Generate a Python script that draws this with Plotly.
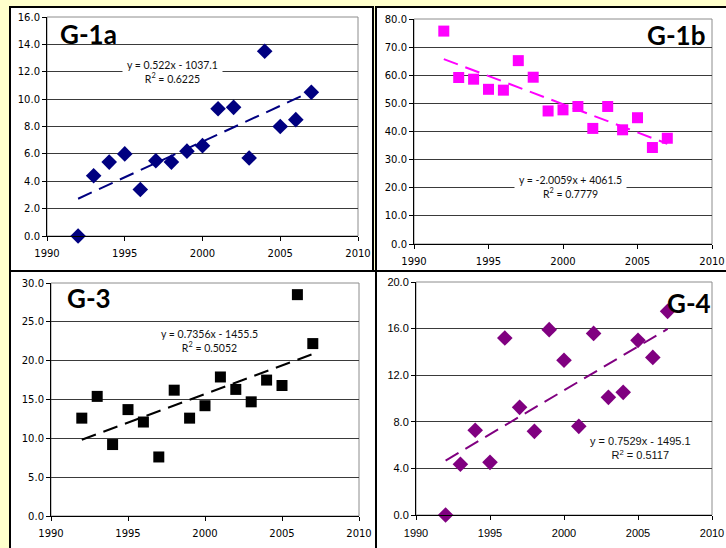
import plotly.graph_objects as go

W, H = 726, 548

YEARS = list(range(1992, 2008))
G1A_VALUES = [0.0, 4.4, 5.4, 6.0, 3.4, 5.5, 5.4, 6.2, 6.6, 9.3, 9.4, 5.7, 13.5, 8.0, 8.5, 10.5]
G1B_VALUES = [75.7, 59.2, 58.6, 55.0, 54.7, 65.2, 59.3, 47.3, 47.7, 48.9, 41.1, 48.9, 40.6, 44.9, 34.3, 37.6]
G3_VALUES = [12.6, 15.4, 9.2, 13.7, 12.1, 7.6, 16.2, 12.6, 14.2, 17.9, 16.3, 14.7, 17.5, 16.8, 28.5, 22.2]
G4_VALUES = [0.0, 4.35, 7.27, 4.52, 15.19, 9.24, 7.18, 15.91, 13.28, 7.61, 15.59, 10.1, 10.53, 14.99, 13.53, 17.48]

TREND_G1A = (0.522, -1037.1)
TREND_G1B = (-2.0059, 4061.5)
TREND_G3 = (0.7356, -1455.5)
TREND_G4 = (0.7529, -1495.1)

EQ_G1A = "y = 0.522x - 1037.1<br>R<sup>2</sup> = 0.6225"
EQ_G1B = "y = -2.0059x + 4061.5<br>R<sup>2</sup> = 0.7779"
EQ_G3 = "y = 0.7356x - 1455.5<br>R<sup>2</sup> = 0.5052"
EQ_G4 = "y = 0.7529x - 1495.1<br>R<sup>2</sup> = 0.5117"

X_TICKS = [1990, 1995, 2000, 2005, 2010]


def px(x):
    return x / W


def py(y):
    return 1 - y / H


panels = [
    dict(name="G-1a", values=G1A_VALUES, trend=TREND_G1A, eq=EQ_G1A,
         area=(47, 358, 17, 236), yr=(0, 16), dy=2, color="#000080", symbol="diamond", msize=12,
         tfont="DejaVu Sans", tsize=10, eqfont="Lato", eqpos=(1998.1, 12.0), eqbox=True,
         title=(58, 34, "left")),
    dict(name="G-1b", values=G1B_VALUES, trend=TREND_G1B, eq=EQ_G1B,
         area=(414, 712, 19, 244), yr=(0, 80), dy=10, color="#FF00FF", symbol="square", msize=11,
         tfont="DejaVu Sans", tsize=10, eqfont="Lato", eqpos=(2000.5, 20.3), eqbox=True,
         title=(707, 35, "right")),
    dict(name="G-3", values=G3_VALUES, trend=TREND_G3, eq=EQ_G3,
         area=(51, 359, 283, 516), yr=(0, 30), dy=5, color="#000000", symbol="square", msize=11,
         tfont="DejaVu Sans", tsize=10, eqfont="Lato", eqpos=(2000.26, 22.5), eqbox=True,
         title=(65, 298, "left")),
    dict(name="G-4", values=G4_VALUES, trend=TREND_G4, eq=EQ_G4,
         area=(416, 712, 282, 515), yr=(0, 20), dy=4, color="#800080", symbol="diamond", msize=12,
         tfont="Liberation Sans", tsize=11, eqfont="Liberation Sans", eqpos=(2005.14, 5.75), eqbox=False,
         title=(713, 303, "right")),
]

# panel frames (white boxes with black border)
frames = [(10, 373, 7, 271), (376, 730, 7, 272), (10, 376, 271, 552), (376, 730, 271, 552)]

fig = go.Figure()
shapes = []
annotations = []

for x0, x1, y0, y1 in frames:
    shapes.append(dict(type="rect", xref="paper", yref="paper",
                       x0=px(x0), x1=px(x1), y0=py(y1), y1=py(y0),
                       fillcolor="white", line=dict(color="black", width=2), layer="below"))

for i, p in enumerate(panels):
    k = "" if i == 0 else str(i + 1)
    xa, ya = "x" + k, "y" + k
    fig.add_trace(go.Scatter(
        x=YEARS, y=p["values"], mode="markers", xaxis=xa, yaxis=ya,
        marker=dict(symbol=p["symbol"], size=p["msize"], color=p["color"], line=dict(width=0)),
        showlegend=False, cliponaxis=False))
    slope, icpt = p["trend"]
    tx = [YEARS[0], YEARS[-1]]
    fig.add_trace(go.Scatter(
        x=tx, y=[slope * t + icpt for t in tx], mode="lines", xaxis=xa, yaxis=ya,
        line=dict(color=p["color"], width=2, dash="15px,8px"), showlegend=False))

    ax0, ax1, ay0, ay1 = p["area"]
    tickfont = dict(family=p["tfont"], size=p["tsize"], color="black")
    fig.update_layout(**{
        "xaxis" + k: dict(domain=[px(ax0), px(ax1)], anchor=ya, range=[1990, 2010],
                          tickvals=X_TICKS, showgrid=False, zeroline=False,
                          showline=True, linecolor="black", linewidth=1,
                          ticks="outside", ticklen=4, tickcolor="black",
                          tickfont=tickfont, ticklabelstandoff=4, fixedrange=True,
                          automargin=False),
        "yaxis" + k: dict(domain=[py(ay1), py(ay0)], anchor=xa, range=list(p["yr"]),
                          dtick=p["dy"], tick0=0, tickformat=".1f", showgrid=True,
                          gridcolor="#3a3a3a", gridwidth=1, zeroline=False,
                          showline=True, linecolor="black", linewidth=1,
                          ticks="outside", ticklen=4, tickcolor="black",
                          tickfont=tickfont, fixedrange=True, automargin=False),
    })
    # grey plot-area border (top / right)
    shapes.append(dict(type="rect", xref=xa + " domain", yref=ya + " domain",
                       x0=0, x1=1, y0=0, y1=1, line=dict(color="#8c8c8c", width=1),
                       layer="below"))

    ex, ey = p["eqpos"]
    ann = dict(x=ex, y=ey, xref=xa, yref=ya, text=p["eq"], showarrow=False,
               font=dict(family=p["eqfont"], size=10.5 if p["eqbox"] else 11, color="#111"),
               align="center")
    if p["eqbox"]:
        ann.update(bgcolor="white", borderpad=4)
    annotations.append(ann)

    tx_, ty_, anch = p["title"]
    annotations.append(dict(x=px(tx_), y=py(ty_), xref="paper", yref="paper",
                            text="<b>" + p["name"] + "</b>", showarrow=False,
                            xanchor=anch, yanchor="middle",
                            font=dict(family="Lato", size=26, color="black")))

fig.update_layout(
    template="none",
    width=W, height=H, margin=dict(l=0, r=0, t=0, b=0, pad=0, autoexpand=False),
    paper_bgcolor="#FFFFCC", plot_bgcolor="white",
    shapes=shapes, annotations=annotations,
)

fig.write_html("out.html", config={"displayModeBar": False},
               post_script="document.body.style.margin='0px';")
